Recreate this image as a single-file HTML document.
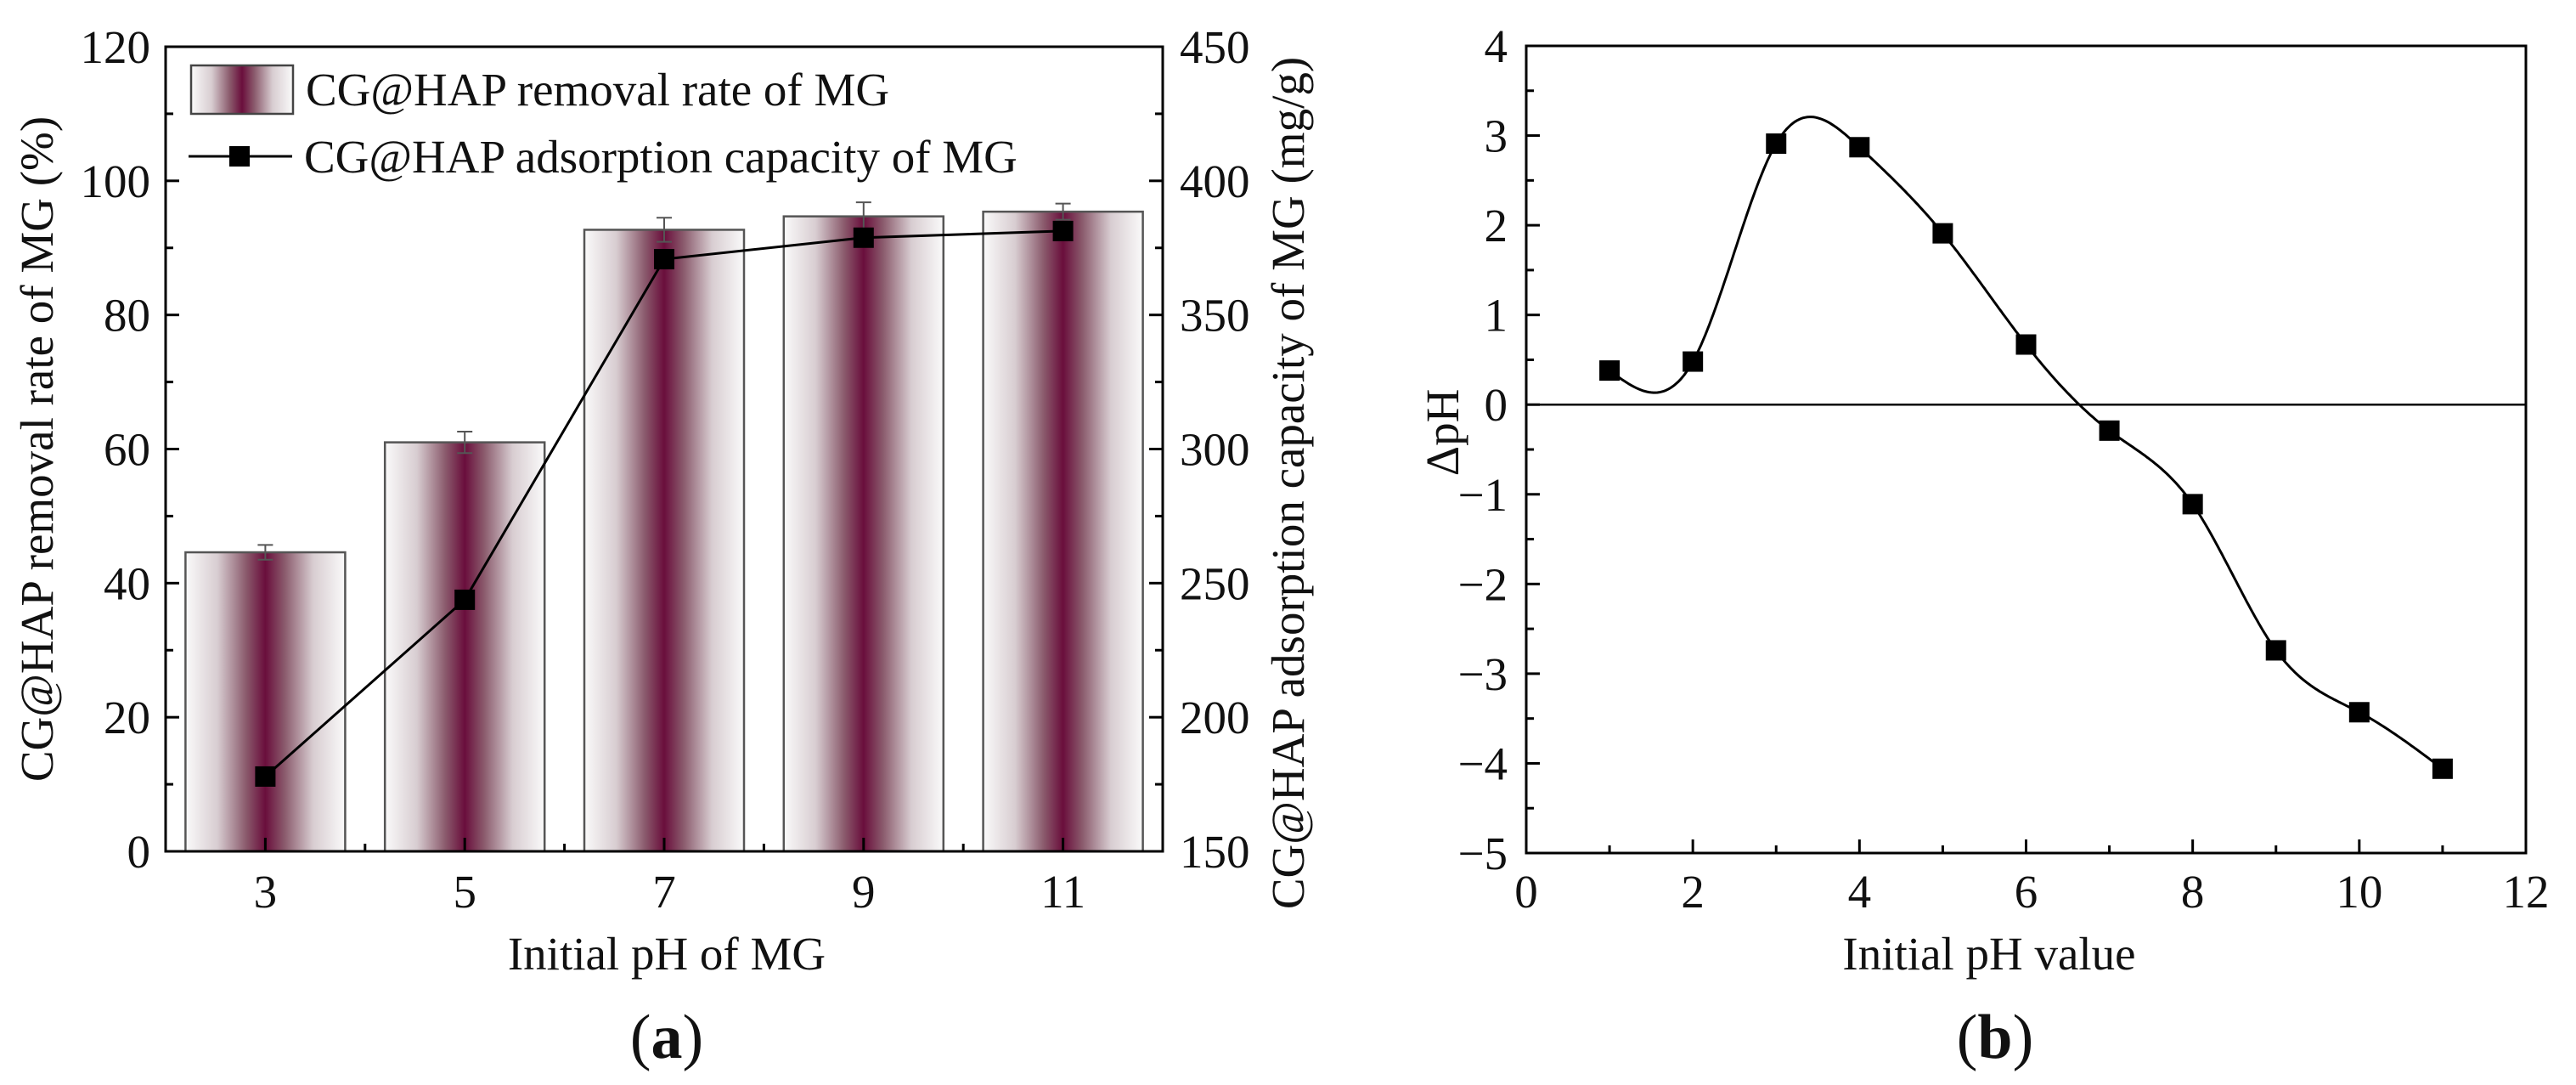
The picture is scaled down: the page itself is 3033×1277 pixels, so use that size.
<!DOCTYPE html>
<html><head><meta charset="utf-8"><style>
html,body{margin:0;padding:0;background:#fff}
svg{display:block}
text{font-family:"Liberation Serif","Times New Roman",serif;fill:#111}
</style></head><body>
<svg id="fig" width="3033" height="1277" viewBox="0 0 3033 1277" xmlns="http://www.w3.org/2000/svg">
<defs>
<linearGradient id="barGrad" x1="0" x2="1" y1="0" y2="0">
<stop offset="0" stop-color="#fafafa"/><stop offset="0.2" stop-color="#d8cdd1"/><stop offset="0.38" stop-color="#8a5a6c"/><stop offset="0.5" stop-color="#6a0e3c"/><stop offset="0.62" stop-color="#8a5a6c"/><stop offset="0.8" stop-color="#d8cdd1"/><stop offset="1" stop-color="#fafafa"/>
</linearGradient>
</defs>
<g id="panelA"></g>
<g id="panelB"></g>
</svg>
<script>
// Panel (a) data
const aCategories = ["3","5","7","9","11"];
const aRemoval = [44.6, 61.0, 92.7, 94.7, 95.4];
const aRemovalErr = [1.1, 1.6, 1.8, 2.1, 1.2];
const aCapacity = [177.9, 243.8, 370.8, 378.8, 381.3];
const aLeftTicks = [0,20,40,60,80,100,120];
const aRightTicks = [150,200,250,300,350,400,450];
// Panel (b) data
const bX = [1,2,3,4,5,6,7,8,9,10,11];
const bY = [0.38,0.48,2.91,2.87,1.91,0.67,-0.29,-1.11,-2.74,-3.43,-4.06];
const bXTicks = [0,2,4,6,8,10,12];
const bYTicks = [4,3,2,1,0,-1,-2,-3,-4,-5];

const FS=55;
const NS="http://www.w3.org/2000/svg";
function mk(parent,tag,attrs,txt){const e=document.createElementNS(NS,tag);for(const k in attrs)e.setAttribute(k,attrs[k]);if(txt!==undefined)e.textContent=txt;parent.appendChild(e);return e;}

// ---------- Panel A ----------
const A=document.getElementById('panelA');
const aL=195,aR=1369,aT=55,aB=1002;
const band=(aR-aL)/aCategories.length;
const ax=i=>aL+band*(i+0.5);
const ayL=v=>aB-(v/120)*(aB-aT);
const ayR=v=>aB-((v-150)/300)*(aB-aT);
const barW=188;
aCategories.forEach((c,i)=>{
  const b=mk(A,'rect',{x:ax(i)-barW/2,y:ayL(aRemoval[i]),width:barW,height:aB-ayL(aRemoval[i]),fill:'url(#barGrad)',stroke:'#555','stroke-width':2.5});
  
  
  const e=mk(A,'path',{d:`M${ax(i)} ${ayL(aRemoval[i]-aRemovalErr[i])}V${ayL(aRemoval[i]+aRemovalErr[i])}M${ax(i)-9} ${ayL(aRemoval[i]+aRemovalErr[i])}h18M${ax(i)-9} ${ayL(aRemoval[i]-aRemovalErr[i])}h18`,stroke:'#555','stroke-width':2,fill:'none'});
  
  
});
const lp=mk(A,'polyline',{points:aCapacity.map((v,i)=>ax(i)+','+ayR(v)).join(' '),fill:'none',stroke:'#000','stroke-width':3});


aCapacity.forEach((v,i)=>{
  const s=mk(A,'rect',{x:ax(i)-12,y:ayR(v)-12,width:24,height:24,fill:'#000'});
  
  
});
const fa=mk(A,'rect',{x:aL,y:aT,width:aR-aL,height:aB-aT,fill:'none',stroke:'#000','stroke-width':3});


aLeftTicks.forEach(v=>{
  mk(A,'line',{x1:aL,x2:aL+16,y1:ayL(v),y2:ayL(v),stroke:'#000','stroke-width':3});
  if(v<120) mk(A,'line',{x1:aL,x2:aL+9,y1:ayL(v+10),y2:ayL(v+10),stroke:'#000','stroke-width':3});
  const t=mk(A,'text',{x:aL-18,y:ayL(v)+19,'font-size':FS,'text-anchor':'end'},String(v));
  
  
});
aRightTicks.forEach(v=>{
  mk(A,'line',{x1:aR,x2:aR-16,y1:ayR(v),y2:ayR(v),stroke:'#000','stroke-width':3});
  if(v<450) mk(A,'line',{x1:aR,x2:aR-9,y1:ayR(v+25),y2:ayR(v+25),stroke:'#000','stroke-width':3});
  const t=mk(A,'text',{x:aR+20,y:ayR(v)+19,'font-size':FS},String(v));
  
  
});
aCategories.forEach((c,i)=>{
  mk(A,'line',{x1:ax(i),x2:ax(i),y1:aB,y2:aB-16,stroke:'#000','stroke-width':3});
  if(i<aCategories.length-1) mk(A,'line',{x1:aL+band*(i+1),x2:aL+band*(i+1),y1:aB,y2:aB-9,stroke:'#000','stroke-width':3});
  const t=mk(A,'text',{x:ax(i),y:1068,'font-size':FS,'text-anchor':'middle'},c);
  
  
});
let t;
t=mk(A,'text',{x:785,y:1141,'font-size':FS,'text-anchor':'middle'},'Initial pH of MG');


t=mk(A,'text',{x:0,y:0,'font-size':FS,'text-anchor':'middle',transform:`translate(62,${(aT+aB)/2}) rotate(-90)`},'CG@HAP removal rate of MG (%)');


t=mk(A,'text',{x:0,y:0,'font-size':FS,'text-anchor':'middle',transform:`translate(1535,${(aT+aB)/2+40}) rotate(-90)`},'CG@HAP adsorption capacity of MG (mg/g)');


t=mk(A,'text',{x:785,y:1245,'font-size':74,'text-anchor':'middle'},'');
t.innerHTML='(<tspan font-weight="bold">a</tspan>)';


const lg=mk(A,'g',{});


mk(lg,'rect',{x:225,y:77,width:120,height:57,fill:'url(#barGrad)',stroke:'#444','stroke-width':2.5});
mk(lg,'text',{x:360,y:124,'font-size':FS},'CG@HAP removal rate of MG');
mk(lg,'line',{x1:222,x2:344,y1:184,y2:184,stroke:'#000','stroke-width':3});
mk(lg,'rect',{x:270,y:172,width:24,height:24,fill:'#000'});
mk(lg,'text',{x:358,y:203,'font-size':FS},'CG@HAP adsorption capacity of MG');

// ---------- Panel B ----------
const B=document.getElementById('panelB');
const bL=1797,bR=2974,bT=54,bB=1004;
const bx=v=>bL+(v/12)*(bR-bL);
const by=v=>bB-((v+5)/9)*(bB-bT);
function spline(xs,ys){const n=xs.length;const h=[],al=[],l=[1],mu=[0],z=[0],c=new Array(n).fill(0),b=[],d=[];
 for(let i=0;i<n-1;i++)h[i]=xs[i+1]-xs[i];
 for(let i=1;i<n-1;i++)al[i]=3/h[i]*(ys[i+1]-ys[i])-3/h[i-1]*(ys[i]-ys[i-1]);
 for(let i=1;i<n-1;i++){l[i]=2*(xs[i+1]-xs[i-1])-h[i-1]*mu[i-1];mu[i]=h[i]/l[i];z[i]=(al[i]-h[i-1]*z[i-1])/l[i];}
 l[n-1]=1;z[n-1]=0;
 for(let j=n-2;j>=0;j--){c[j]=z[j]-mu[j]*c[j+1];b[j]=(ys[j+1]-ys[j])/h[j]-h[j]*(c[j+1]+2*c[j])/3;d[j]=(c[j+1]-c[j])/(3*h[j]);}
 return x=>{let j=0;while(j<n-2&&x>xs[j+1])j++;const dx=x-xs[j];return ys[j]+b[j]*dx+c[j]*dx*dx+d[j]*dx*dx*dx;};}
const f=spline(bX,bY);
let pts=[];for(let k=0;k<=400;k++){const x=bX[0]+(bX[bX.length-1]-bX[0])*k/400;pts.push(bx(x).toFixed(1)+','+by(f(x)).toFixed(1));}
const cv=mk(B,'polyline',{points:pts.join(' '),fill:'none',stroke:'#000','stroke-width':3});


bX.forEach((x,i)=>{
  const s=mk(B,'rect',{x:bx(x)-12,y:by(bY[i])-12,width:24,height:24,fill:'#000'});
  
  
});
const zl=mk(B,'line',{x1:bL,x2:bR,y1:by(0),y2:by(0),stroke:'#000','stroke-width':2.5});


const fb=mk(B,'rect',{x:bL,y:bT,width:bR-bL,height:bB-bT,fill:'none',stroke:'#000','stroke-width':3});


bYTicks.forEach(v=>{
  mk(B,'line',{x1:bL,x2:bL+16,y1:by(v),y2:by(v),stroke:'#000','stroke-width':3});
  if(v>-5) mk(B,'line',{x1:bL,x2:bL+9,y1:by(v-0.5),y2:by(v-0.5),stroke:'#000','stroke-width':3});
  const t=mk(B,'text',{x:bL-22,y:by(v)+19,'font-size':FS,'text-anchor':'end'},v<0?'\u2212'+Math.abs(v):String(v));
  
  
});
bXTicks.forEach(v=>{
  mk(B,'line',{x1:bx(v),x2:bx(v),y1:bB,y2:bB-16,stroke:'#000','stroke-width':3});
  if(v<12) mk(B,'line',{x1:bx(v+1),x2:bx(v+1),y1:bB,y2:bB-9,stroke:'#000','stroke-width':3});
  const t=mk(B,'text',{x:bx(v),y:1068,'font-size':FS,'text-anchor':'middle'},String(v));
  
  
});
t=mk(B,'text',{x:2342,y:1141,'font-size':FS,'text-anchor':'middle'},'Initial pH value');


t=mk(B,'text',{x:0,y:0,'font-size':FS,'text-anchor':'middle',transform:`translate(1717,509) rotate(-90)`},'\u0394pH');


t=mk(B,'text',{x:2349,y:1245,'font-size':74,'text-anchor':'middle'},'');
t.innerHTML='(<tspan font-weight="bold">b</tspan>)';


</script>
</body></html>
